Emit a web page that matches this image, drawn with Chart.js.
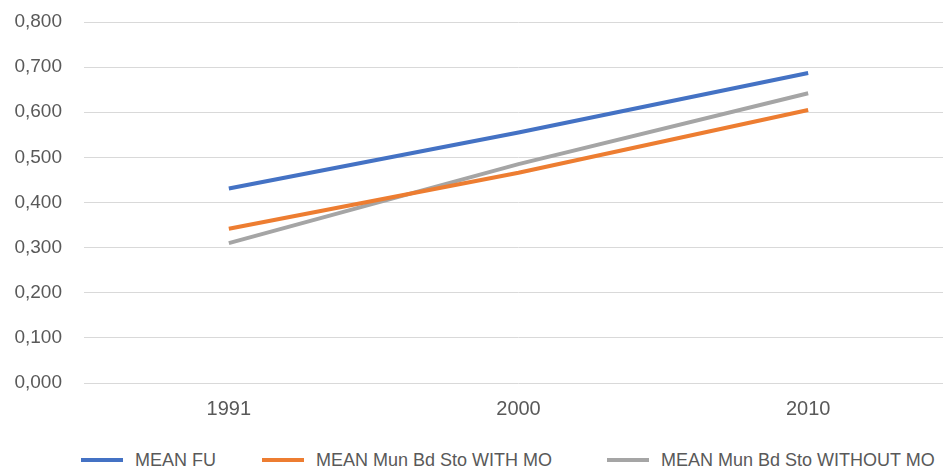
<!DOCTYPE html>
<html>
<head>
<meta charset="utf-8">
<script src="https://cdn.jsdelivr.net/npm/chart.js@4/dist/chart.umd.min.js"></script>
<style>
  html, body { margin: 0; padding: 0; background: #fff; overflow: hidden; }
  body { width: 943px; height: 470px; position: relative; }
  #wrap { position: absolute; left: 0; top: 0; width: 953px; height: 432px; }
  #legend {
    position: absolute; left: 81px; top: 440px; height: 40px;
    display: flex; align-items: center;
    font-family: "Liberation Sans", Arial, sans-serif; font-size: 18px; color: #595959;
    white-space: nowrap;
  }
  #legend .item { display: flex; align-items: center; }
  #legend .item:nth-child(1) { margin-right: 46px; }
  #legend .item:nth-child(2) { margin-right: 55px; }
  #legend .bar { width: 42px; height: 4px; margin-right: 12px; }
</style>
</head>
<body>
<div id="wrap"><canvas id="chart"></canvas></div>
<div id="legend"></div>
<script>
/* ---------- data ---------- */
const years = ['1991', '2000', '2010'];
const meanFU = [0.431, 0.555, 0.687];
const meanWithMO = [0.342, 0.466, 0.605];
const meanWithoutMO = [0.310, 0.485, 0.642];
const seriesNames = ['MEAN FU', 'MEAN Mun Bd Sto WITH MO', 'MEAN Mun Bd Sto WITHOUT MO'];
const seriesColors = ['#4472C4', '#ED7D31', '#A5A5A5'];

const FONT = '"Liberation Sans", Arial, sans-serif';
const TEXT = '#595959';

function ds(i, data) {
  return {
    label: seriesNames[i],
    data,
    borderColor: seriesColors[i],
    backgroundColor: seriesColors[i],
    borderWidth: 4,
    tension: 0,
    pointRadius: 0,
    fill: false,
  };
}

const chart = new Chart(document.getElementById('chart'), {
  type: 'line',
  data: {
    labels: years,
    datasets: [ds(0, meanFU), ds(1, meanWithMO), ds(2, meanWithoutMO)],
  },
  options: {
    responsive: true,
    maintainAspectRatio: false,
    animation: false,
    layout: { padding: { top: 22, left: 0, right: 0, bottom: 0 } },
    plugins: {
      legend: { display: false },
      tooltip: { enabled: false },
    },
    scales: {
      x: {
        offset: true,
        grid: { display: false, drawTicks: false },
        border: { display: false },
        ticks: { color: TEXT, font: { family: FONT, size: 20 }, padding: 14 },
        afterFit: s => { s.height = 49; },
      },
      y: {
        min: 0,
        max: 0.8,
        grid: { color: '#D9D9D9', lineWidth: 1, drawTicks: false },
        border: { display: false },
        ticks: {
          stepSize: 0.1,
          color: TEXT,
          font: { family: FONT, size: 19 },
          padding: 22,
          callback: v => v.toFixed(3).replace('.', ','),
        },
        // keep the label gap from pushing the plot area down
        afterFit: s => { s.width = 84; s.paddingTop = 0; s.paddingBottom = 0; },
      },
    },
  },
});

/* ---------- html legend ---------- */
const legend = document.getElementById('legend');
seriesNames.forEach((name, i) => {
  const item = document.createElement('div');
  item.className = 'item';
  item.innerHTML = `<span class="bar" style="background:${seriesColors[i]}"></span><span>${name}</span>`;
  legend.appendChild(item);
});
</script>
</body>
</html>
